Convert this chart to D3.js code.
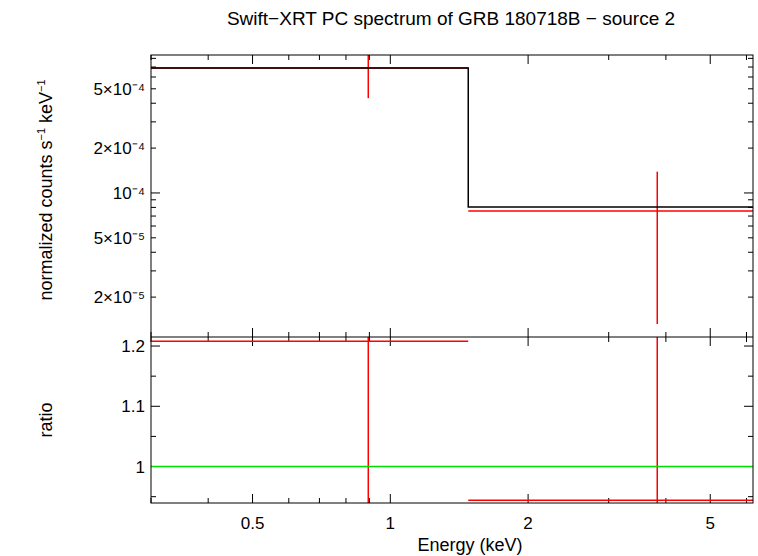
<!DOCTYPE html>
<html><head><meta charset="utf-8">
<script src="https://cdn.jsdelivr.net/npm/d3@7"></script>
<style>
body{margin:0;background:#fff}
text{font-family:"Liberation Sans",Arial,sans-serif;font-size:17px;fill:#000}
</style></head>
<body><svg width="758" height="556"></svg>
<script>
// bins: [lo, hi], energy point, values
var binLo = [0.3, 1.48];
var binHi = [1.48, 6.2];
var binE = [0.895, 3.83];
var model = [6.9e-4, 8.06e-5];
var dataVal = [6.9e-4, 7.58e-5];
var dataLo = [4.33e-4, 1.32e-5];
var dataHi = [1.2e-3, 1.39e-4];
var ratio = [1.208, 0.944];
var ratioLo = [0.8, 0.7];
var ratioHi = [1.6, 1.5];
var xTicks = [0.5, 1, 2, 5];
var yTicks = [2e-5, 5e-5, 1e-4, 2e-4, 5e-4];
var yLabels = ["2×10⁻⁵", "5×10⁻⁵", "10⁻⁴", "2×10⁻⁴", "5×10⁻⁴"];
var rTicks = [1, 1.1, 1.2];

var svg = d3.select("svg");
var L = 151, R = 753, T = 55, M = 337, B = 503;
var x = d3.scaleLog().domain([0.3, 6.2]).range([L, R]);
var y = d3.scaleLog().domain([1.08e-5, 8.43e-4]).range([M, T]);
var yr = d3.scaleLinear().domain([0.9395, 1.215]).range([B, M]);

svg.append("clipPath").attr("id", "c1").append("rect").attr("x", L).attr("y", T).attr("width", R - L).attr("height", M - T);
svg.append("clipPath").attr("id", "c2").append("rect").attr("x", L).attr("y", M).attr("width", R - L).attr("height", B - M);

var xMinor = [];
[0.1, 1].forEach(function(d) { for (var k = 1; k < 10; k++) { var v = d * k; if (v >= 0.3 && v <= 6.2) xMinor.push(v); } });
var yMinor = [];
[1e-5, 1e-4].forEach(function(d) { for (var k = 1; k < 10; k++) { var v = d * k; if (v >= 1.08e-5 && v <= 8.43e-4) yMinor.push(v); } });

function tick(x1, y1, x2, y2) {
  svg.append("line").attr("x1", x1).attr("y1", y1).attr("x2", x2).attr("y2", y2).attr("stroke", "#000");
}
xMinor.forEach(function(v) {
  var big = xTicks.indexOf(+v.toFixed(3)) >= 0, s = big ? 9 : 5;
  [T, M].forEach(function(t) { tick(x(v), t, x(v), t + s); });
  [M, B].forEach(function(b) { tick(x(v), b, x(v), b - s); });
});
yMinor.forEach(function(v) {
  var big = [1e-5, 1e-4].some(function(d) { return Math.abs(v - d) < 1e-9; }), s = big ? 9 : 5;
  tick(L, y(v), L + s, y(v)); tick(R, y(v), R - s, y(v));
});
d3.range(0.95, 1.22, 0.05).forEach(function(v) {
  var s = Math.abs(v * 10 - Math.round(v * 10)) < 0.01 ? 9 : 5;
  tick(L, yr(v), L + s, yr(v)); tick(R, yr(v), R - s, yr(v));
});

svg.selectAll(".xl").data(xTicks).enter().append("text").attr("x", function(d) { return x(d); })
  .attr("y", B + 26).attr("text-anchor", "middle").text(function(d) { return d; });
svg.selectAll(".yl").data(yTicks).enter().append("text").attr("x", L - 6)
  .attr("y", function(d) { return y(d) + 6; }).attr("text-anchor", "end").text(function(d, i) { return yLabels[i]; });
svg.selectAll(".rl").data(rTicks).enter().append("text").attr("x", L - 6)
  .attr("y", function(d) { return yr(d) + 6; }).attr("text-anchor", "end").text(function(d) { return d; });

var g1 = svg.append("g").attr("clip-path", "url(#c1)");
var g2 = svg.append("g").attr("clip-path", "url(#c2)");
function seg(g, x1, y1, x2, y2, c) {
  g.append("line").attr("x1", x1).attr("y1", y1).attr("x2", x2).attr("y2", y2).attr("stroke", c).attr("stroke-width", 1.5);
}
binLo.forEach(function(lo, i) {
  seg(g1, x(lo), y(dataVal[i]), x(binHi[i]), y(dataVal[i]), "red");
  seg(g1, x(binE[i]), y(dataLo[i]), x(binE[i]), y(dataHi[i]), "red");
  seg(g2, x(lo), yr(ratio[i]), x(binHi[i]), yr(ratio[i]), "red");
  seg(g2, x(binE[i]), yr(ratioLo[i]), x(binE[i]), yr(ratioHi[i]), "red");
});
var mpath = "M" + x(binLo[0]) + "," + y(model[0]) + "H" + x(binHi[0]) + "V" + y(model[1]) + "H" + x(binHi[1]);
g1.append("path").attr("d", mpath).attr("fill", "none").attr("stroke", "#000").attr("stroke-width", 1.5);
seg(g2, L, yr(1), R, yr(1), "#00e000");

svg.append("rect").attr("x", L).attr("y", T).attr("width", R - L).attr("height", B - T).attr("fill", "none").attr("stroke", "#000");
tick(L, M, R, M);

svg.append("text").attr("x", 451).attr("y", 25).attr("text-anchor", "middle").style("font-size", "19px").text("Swift−XRT PC spectrum of GRB 180718B − source 2");
svg.append("text").attr("x", 470).attr("y", 551).attr("text-anchor", "middle").style("font-size", "18px").text("Energy (keV)");
svg.append("text").attr("transform", "translate(52,190) rotate(-90)").attr("text-anchor", "middle").style("font-size", "18px")
  .html('normalized counts s<tspan dy="-7" font-size="11">−1</tspan><tspan dy="7"> keV</tspan><tspan dy="-7" font-size="11">−1</tspan>');
svg.append("text").attr("transform", "translate(52,420) rotate(-90)").attr("text-anchor", "middle").style("font-size", "18px").text("ratio");
</script></body></html>
